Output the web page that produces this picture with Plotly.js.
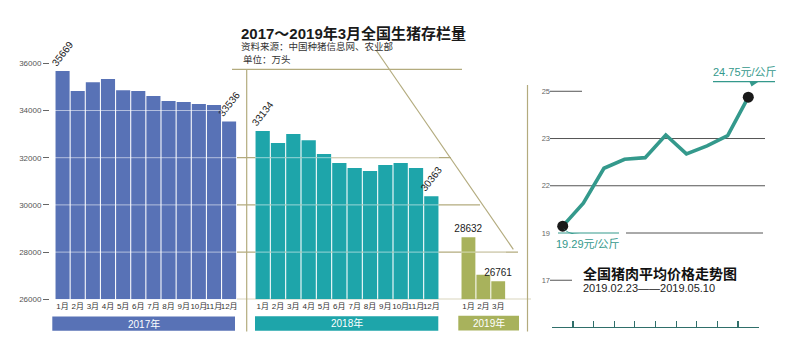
<!DOCTYPE html>
<html>
<head>
<meta charset="utf-8">
<script src="https://cdn.plot.ly/plotly-3.0.1.min.js"></script>
<style>html,body{margin:0;padding:0;background:#fff;}#chart{width:800px;height:361px;}</style>
</head>
<body>
<div id="chart"></div>
<script>
// ---- data ----
const months2017 = ['1月','2月','3月','4月','5月','6月','7月','8月','9月','10月','11月','12月'];
const stock2017 = [35669, 34826, 35195, 35335, 34856, 34826, 34614, 34403, 34360, 34275, 34233, 33536];
const months2018 = ['1月','2月','3月','4月','5月','6月','7月','8月','9月','10月','11月','12月'];
const stock2018 = [33134, 32623, 33004, 32737, 32157, 31775, 31563, 31436, 31690, 31775, 31563, 30363];
const months2019 = ['1月','2月','3月'];
const stock2019 = [28632, 27042, 26761];
const yearLabels = ['2017年','2018年','2019年'];
const stockTicks = [26000, 28000, 30000, 32000, 34000, 36000];
const stockBase = 26000;

const weeks = [1, 2, 3, 4, 5, 6, 7, 8, 9, 10];
const prices = [19.29, 20.26, 21.74, 22.12, 22.19, 23.15, 22.35, 22.69, 23.12, 24.75];
const priceTickVals = [17, 19, 21, 23, 25];
const priceTickText = ['17', '19', '22', '23', '25'];
const weekBounds = [0.5, 1.5, 2.5, 3.5, 4.5, 5.5, 6.5, 7.5, 8.5, 9.5, 10.5];

// ---- style ----
const C17 = '#5872b6', C18 = '#1ea5aa', C19 = '#a8b25c';
const TEAL = '#34998c', OLIVE = '#b3ab7e';
const FONT = 'Liberation Sans, Noto Sans CJK SC, sans-serif';
const NARROW = 'Liberation Sans Narrow, Liberation Sans, Noto Sans CJK SC, sans-serif';
const W = 800, H = 361;
const px = x => x / W, py = y => 1 - y / H;

function endLabels(arr, idx) {
  return arr.map((v, i) => idx.includes(i) ? String(v) : '');
}

const barCommon = {type: 'bar', textposition: 'outside', constraintext: 'none', cliponaxis: false,
  base: stockBase, textfont: {family: FONT, size: 10, color: '#222'}, hoverinfo: 'text', showlegend: false};

function barTrace(months, vals, xa, color, labelIdx, angle) {
  return Object.assign({}, barCommon, {x: months, y: vals.map(v => v - stockBase), xaxis: xa, yaxis: 'y',
    marker: {color: color}, text: endLabels(vals, labelIdx), textangle: angle});
}

const traces = [
  barTrace(months2017, stock2017, 'x', C17, [0, stock2017.length - 1], -52),
  barTrace(months2018, stock2018, 'x2', C18, [0, stock2018.length - 1], -52),
  barTrace(months2019, stock2019, 'x3', C19, [0, stock2019.length - 1], 0),
  {type: 'scatter', mode: 'lines', x: weeks, y: prices, xaxis: 'x4', yaxis: 'y2',
    line: {color: TEAL, width: 3.6}, showlegend: false},
  {type: 'scatter', mode: 'markers', x: [weeks[0], weeks[weeks.length - 1]],
    y: [prices[0], prices[prices.length - 1]], xaxis: 'x4', yaxis: 'y2',
    marker: {color: '#1a1a1a', size: 11}, showlegend: false, cliponaxis: false}
];

// left y scale: 23.6 px per 1000
const k1 = 0.0236, base1 = 299.3;
const yTop1 = 37500;
// right y scale
const k2 = 23.62, y19 = 233;
const r2lo = 19 - (326.7 - y19) / k2, r2hi = 19 + (y19 - 60) / k2;

const catAxis = (d) => ({domain: d, anchor: 'y', type: 'category', tickangle: 0, ticks: '',
  showline: false, showgrid: false, zeroline: false, ticklabelstandoff: 1,
  tickfont: {family: NARROW, size: 8, color: '#333'}, fixedrange: true});

const shapes = [];
function seg(x0, y0, x1, y1, color, width, layer) {
  shapes.push({type: 'line', xref: 'paper', yref: 'paper', x0: px(x0), y0: py(y0), x1: px(x1), y1: py(y1),
    line: {color: color, width: width}, layer: layer || 'below'});
}
function hline(yref, yv, x0, x1, color, width, layer) {
  shapes.push({type: 'line', xref: 'paper', yref: yref, x0: px(x0), x1: px(x1), y0: yv, y1: yv,
    line: {color: color, width: width}, layer: layer || 'below'});
}
function rect(x0, y0, x1, y1, color) {
  shapes.push({type: 'rect', xref: 'paper', yref: 'paper', x0: px(x0), y0: py(y0), x1: px(x1), y1: py(y1),
    fillcolor: color, line: {width: 0}, layer: 'below'});
}
function path(pts, color) {
  const d = pts.map(p => (p[0]) + ' ' + px(p[1]) + ',' + py(p[2])).join(' ') + ' Z';
  shapes.push({type: 'path', xref: 'paper', yref: 'paper', path: d, fillcolor: color, line: {width: 0}, layer: 'above'});
}

// olive frame
seg(232, 69.3, 462, 69.3, OLIVE, 1.2);
seg(246.7, 69.3, 246.7, 331.5, OLIVE, 1.2);
seg(527.5, 85, 527.5, 331.5, OLIVE, 1.2);
seg(376, 50, 513.3, 249.3, OLIVE, 1.2);
hline('y', stockTicks[3], 237, 451, OLIVE, 1.2);
hline('y', stockTicks[2], 237, 480, OLIVE, 1.2);
hline('y', stockTicks[1], 237, 518, OLIVE, 1.2);
hline('y', stockTicks[0], 237, 531, OLIVE, 1.2);
// light lines across bars
const LIGHT = 'rgba(255,255,255,0.55)';
[stockTicks[1], stockTicks[2], stockTicks[3], stockTicks[4]].forEach(v => hline('y', v, 55, 237, LIGHT, 1, 'above'));
[stockTicks[1], stockTicks[2], stockTicks[3]].forEach(v => hline('y', v, 255, 439, LIGHT, 1, 'above'));
hline('y', stockTicks[1], 461, 506, LIGHT, 1, 'above');
// year bands
rect(52.3, 316.5, 235, 330.7, C17);
rect(255, 316.2, 438.3, 330.7, C18);
rect(458.3, 315.8, 519, 330.5, C19);
// right chart grid
const GRID = '#555';
hline('y2', priceTickVals[4], 550, 582, GRID, 1);
hline('y2', priceTickVals[3], 550, 765, GRID, 1);
hline('y2', priceTickVals[2], 550, 765, GRID, 1);
hline('y2', priceTickVals[1], 626, 763, GRID, 1);
hline('y2', priceTickVals[0], 550, 572, GRID, 1);
// callouts
hline('y2', priceTickVals[1], 558, 619, TEAL, 1.2);
seg(713, 81.7, 775, 81.7, TEAL, 1.2, 'above');
path([['M', 749.5, 81.7], ['L', 758.5, 81.7], ['L', 751.5, 86.5]], TEAL);
path([['M', 563, 228], ['Q', 567, 233.6], ['', 580, 234], ['L', 572, 234], ['Q', 566, 232.5], ['', 563, 228]], TEAL);

const annotations = [
  {text: '<b>2017～2019年3月全国生猪存栏量</b>', x: px(239), y: py(33.3), xanchor: 'left', yanchor: 'middle',
    font: {family: FONT, size: 15, color: '#1a1a1a'}},
  {text: '资料来源：中国种猪信息网、农业部', x: px(239), y: py(46.7), xanchor: 'left', yanchor: 'middle',
    font: {family: FONT, size: 9.5, color: '#333'}},
  {text: '单位：万头', x: px(241), y: py(59.3), xanchor: 'left', yanchor: 'middle',
    font: {family: FONT, size: 9.5, color: '#333'}},
  {text: yearLabels[0], x: px((52.3 + 235) / 2), y: py(323.6), xanchor: 'center', yanchor: 'middle',
    font: {family: FONT, size: 10, color: '#fff'}},
  {text: yearLabels[1], x: px((255 + 438.3) / 2), y: py(323.4), xanchor: 'center', yanchor: 'middle',
    font: {family: FONT, size: 10, color: '#fff'}},
  {text: yearLabels[2], x: px((458.3 + 519) / 2), y: py(323.2), xanchor: 'center', yanchor: 'middle',
    font: {family: FONT, size: 10, color: '#fff'}},
  {text: prices[prices.length - 1].toFixed(2) + '元/公斤', x: px(745), y: py(72.5), xanchor: 'center', yanchor: 'middle',
    font: {family: FONT, size: 11, color: TEAL}},
  {text: prices[0].toFixed(2) + '元/公斤', x: px(588), y: py(244), xanchor: 'center', yanchor: 'middle',
    font: {family: FONT, size: 11, color: TEAL}},
  {text: '<b>全国猪肉平均价格走势图</b>', x: px(581), y: py(274), xanchor: 'left', yanchor: 'middle',
    font: {family: FONT, size: 14, color: '#111'}},
  {text: '2019.02.23——2019.05.10', x: px(581), y: py(287.5), xanchor: 'left', yanchor: 'middle',
    font: {family: FONT, size: 11, color: '#222'}}
].map(a => Object.assign({xref: 'paper', yref: 'paper', showarrow: false}, a));

const layout = {
  width: W, height: H,
  margin: {l: 0, r: 0, t: 0, b: 0},
  paper_bgcolor: '#fff', plot_bgcolor: 'rgba(0,0,0,0)',
  bargap: 0.07,
  showlegend: false,
  font: {family: FONT},
  xaxis: catAxis([px(55), px(236.7)]),
  xaxis2: catAxis([px(255), px(439)]),
  xaxis3: catAxis([px(461), px(505.7)]),
  yaxis: {domain: [py(base1), py(base1 - (yTop1 - 26000) * k1)], range: [26000, yTop1],
    anchor: 'free', position: px(49), side: 'left',
    tickvals: stockTicks, tickformat: 'd', ticks: 'outside', ticklen: 6, tickcolor: '#666', tickwidth: 1,
    showgrid: false, zeroline: false, showline: false,
    tickfont: {family: FONT, size: 8, color: '#555'}, fixedrange: true},
  xaxis4: {domain: [px(552.4), px(758.6)], anchor: 'y2', range: [0.5, 10.5],
    tickvals: weekBounds, ticks: 'inside', ticklen: 6, tickcolor: '#2f6f6a', tickwidth: 1.2,
    showline: true, linecolor: '#2f6f6a', linewidth: 1.4, showticklabels: false,
    showgrid: false, zeroline: false, fixedrange: true},
  yaxis2: {domain: [py(326.7), py(60)], range: [r2lo, r2hi], anchor: 'free', position: px(550), side: 'left',
    tickvals: priceTickVals, ticktext: priceTickText, ticks: '',
    showgrid: false, zeroline: false, showline: false,
    tickfont: {family: FONT, size: 7.5, color: '#666'}, fixedrange: true},
  shapes: shapes,
  annotations: annotations
};

Plotly.newPlot('chart', traces, layout, {displayModeBar: false, staticPlot: true});
</script>
</body>
</html>
